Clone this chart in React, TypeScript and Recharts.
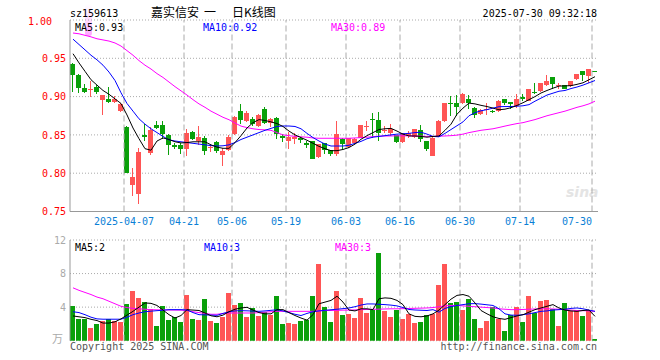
import React from 'react';
import { ComposedChart, Bar, Line, XAxis, YAxis, CartesianGrid, ReferenceLine } from 'recharts';

const dates = [
  '2025-03-24','2025-03-25','2025-03-26','2025-03-27','2025-03-28','2025-03-31','2025-04-01','2025-04-02','2025-04-03','2025-04-07',
  '2025-04-08','2025-04-09','2025-04-10','2025-04-11','2025-04-14','2025-04-15','2025-04-16','2025-04-17','2025-04-18','2025-04-21',
  '2025-04-22','2025-04-23','2025-04-24','2025-04-25','2025-04-28','2025-04-29','2025-04-30','2025-05-06','2025-05-07','2025-05-08',
  '2025-05-09','2025-05-12','2025-05-13','2025-05-14','2025-05-15','2025-05-16','2025-05-19','2025-05-20','2025-05-21','2025-05-22',
  '2025-05-23','2025-05-26','2025-05-27','2025-05-28','2025-05-29','2025-05-30','2025-06-03','2025-06-04','2025-06-05','2025-06-06',
  '2025-06-09','2025-06-10','2025-06-11','2025-06-12','2025-06-13','2025-06-16','2025-06-17','2025-06-18','2025-06-19','2025-06-20',
  '2025-06-23','2025-06-24','2025-06-25','2025-06-26','2025-06-27','2025-06-30','2025-07-01','2025-07-02','2025-07-03','2025-07-04',
  '2025-07-07','2025-07-08','2025-07-09','2025-07-10','2025-07-11','2025-07-14','2025-07-15','2025-07-16','2025-07-17','2025-07-18',
  '2025-07-21','2025-07-22','2025-07-23','2025-07-24','2025-07-25','2025-07-28','2025-07-29','2025-07-30'
];

const open = [
  0.9426,0.928,0.9106,0.909,0.912,0.895,0.897,0.8935,0.881,0.860,
  0.785,0.773,0.8497,0.8265,0.8624,0.8624,0.8493,0.8374,0.8366,0.8322,
  0.8541,0.8418,0.8462,0.8331,0.8409,0.8243,0.8300,0.8506,0.8812,0.8681,
  0.8712,0.8615,0.8843,0.866,0.8725,0.8485,0.8419,0.8441,0.8463,0.8389,
  0.8419,0.8214,0.8389,0.830,0.8245,0.8441,0.8345,0.8398,0.8463,0.8615,
  0.8712,0.8695,0.856,0.852,0.8494,0.8406,0.848,0.8476,0.8563,0.8419,
  0.8225,0.848,0.868,0.8912,0.8912,0.8912,0.8965,0.8855,0.8768,0.8830,
  0.8812,0.8812,0.8965,0.893,0.8877,0.900,0.8943,0.9062,0.9074,0.9149,
  0.925,0.915,0.9149,0.914,0.9228,0.9328,0.9272,0.9328
];
const close = [
  0.9285,0.911,0.9066,0.910,0.906,0.902,0.8935,0.897,0.890,0.800,
  0.7945,0.828,0.8476,0.8563,0.8585,0.8506,0.8374,0.8344,0.8322,0.8528,
  0.8440,0.8475,0.8287,0.8336,0.8287,0.8287,0.8471,0.8738,0.8694,0.879,
  0.8637,0.8755,0.866,0.8703,0.8507,0.8463,0.8476,0.8476,0.8432,0.8362,
  0.8188,0.8375,0.830,0.8245,0.8506,0.8376,0.8454,0.845,0.8625,0.862,
  0.8695,0.852,0.857,0.858,0.8406,0.852,0.853,0.8572,0.8441,0.831,
  0.846,0.868,0.8915,0.890,0.8869,0.903,0.8921,0.8755,0.8825,0.8834,
  0.881,0.8943,0.8921,0.890,0.8974,0.8974,0.9096,0.906,0.9175,0.9206,
  0.9162,0.9152,0.9105,0.9206,0.9293,0.928,0.936,0.9325
];
const high = [
  0.944,0.929,0.916,0.920,0.915,0.902,0.912,0.901,0.892,0.861,
  0.807,0.833,0.8637,0.860,0.8681,0.8681,0.8506,0.839,0.8396,0.8571,
  0.855,0.8615,0.8484,0.8374,0.8418,0.8331,0.850,0.875,0.890,0.881,
  0.874,0.877,0.886,0.872,0.873,0.8506,0.8537,0.853,0.8476,0.8419,
  0.8425,0.838,0.839,0.8305,0.868,0.846,0.846,0.846,0.863,0.868,
  0.879,0.8804,0.862,0.864,0.8494,0.853,0.855,0.858,0.8624,0.842,
  0.847,0.869,0.892,0.9009,0.9018,0.905,0.9018,0.886,0.8835,0.892,
  0.883,0.895,0.897,0.8935,0.903,0.903,0.910,0.918,0.918,0.928,
  0.925,0.918,0.915,0.921,0.930,0.933,0.936,0.9335
];
const low = [
  0.906,0.905,0.905,0.900,0.903,0.8755,0.892,0.892,0.880,0.800,
  0.7704,0.760,0.8418,0.824,0.8571,0.844,0.8243,0.832,0.8256,0.8230,
  0.843,0.8374,0.8243,0.8274,0.8265,0.8098,0.829,0.850,0.8637,0.867,
  0.862,0.860,0.864,0.860,0.844,0.8406,0.8318,0.8376,0.840,0.8335,
  0.818,0.820,0.8245,0.822,0.822,0.831,0.833,0.839,0.846,0.855,
  0.8463,0.8419,0.852,0.849,0.8395,0.840,0.846,0.846,0.8406,0.829,
  0.822,0.847,0.867,0.8746,0.8746,0.890,0.8834,0.8724,0.8755,0.8755,
  0.879,0.880,0.889,0.884,0.885,0.894,0.894,0.903,0.906,0.914,
  0.9105,0.910,0.910,0.913,0.922,0.9206,0.918,0.9322
];
const ma5 = [
  0.956,0.944,0.933,0.922,0.915,0.908,0.903,0.897,0.891,0.876,
  0.859,0.845,0.832,0.830,0.842,0.846,0.844,0.841,0.8395,0.840,
  0.841,0.841,0.841,0.837,0.834,0.8325,0.8325,0.840,0.849,0.859,
  0.866,0.870,0.8688,0.867,0.8648,0.861,0.855,0.850,0.8465,0.843,
  0.839,0.835,0.832,0.8294,0.8294,0.831,0.8335,0.838,0.8443,0.849,
  0.853,0.857,0.858,0.8585,0.855,0.851,0.8486,0.8486,0.848,0.847,
  0.848,0.8486,0.856,0.864,0.877,0.885,0.8915,0.8905,0.8886,0.887,
  0.885,0.8828,0.8836,0.8855,0.8885,0.892,0.896,0.900,0.9047,0.908,
  0.911,0.9137,0.914,0.9143,0.916,0.918,0.922,0.926
];
const ma10 = [
  0.975,0.968,0.961,0.954,0.948,0.941,0.932,0.921,0.905,0.891,
  0.881,0.871,0.864,0.858,0.853,0.848,0.8435,0.842,0.841,0.840,
  0.839,0.838,0.837,0.836,0.8355,0.8358,0.837,0.840,0.844,0.847,
  0.850,0.853,0.856,0.8585,0.861,0.8616,0.8616,0.861,0.858,0.852,
  0.8465,0.842,0.838,0.8355,0.8355,0.8355,0.8365,0.839,0.8415,0.845,
  0.847,0.848,0.849,0.850,0.851,0.8515,0.852,0.853,0.8535,0.851,
  0.848,0.8475,0.852,0.857,0.862,0.867,0.875,0.879,0.8815,0.883,
  0.885,0.8868,0.887,0.887,0.8875,0.888,0.8895,0.894,0.898,0.902,
  0.9045,0.907,0.908,0.9105,0.9125,0.915,0.918,0.921
];
const ma30 = [
  0.983,0.982,0.980,0.978,0.9755,0.974,0.9725,0.970,0.966,0.960,
  0.954,0.947,0.941,0.936,0.930,0.925,0.919,0.913,0.9075,0.902,
  0.896,0.8905,0.886,0.881,0.877,0.873,0.8698,0.8655,0.8615,0.8595,
  0.858,0.857,0.8566,0.856,0.853,0.850,0.849,0.848,0.8475,0.847,
  0.846,0.8456,0.8456,0.8456,0.8456,0.8456,0.8456,0.846,0.8465,0.847,
  0.8477,0.8484,0.8486,0.8486,0.8488,0.8488,0.8488,0.8486,0.8484,0.848,
  0.848,0.8483,0.8486,0.849,0.8497,0.851,0.853,0.8545,0.856,0.857,
  0.858,0.8597,0.8615,0.8632,0.8648,0.866,0.868,0.870,0.8725,0.875,
  0.877,0.879,0.881,0.8835,0.886,0.888,0.8905,0.894
];
const vol = [
  4.1,2.6,2.6,1.56,2.0,2.4,2.57,2.4,2.17,4.4,
  5.9,5.06,4.66,3.78,1.77,4.18,2.49,2.77,2.25,5.42,
  2.61,2.41,5.02,2.29,2.13,2.77,5.66,4.3,4.46,2.77,
  3.86,3.0,3.37,3.1,5.38,2.0,2.13,2.0,2.29,2.49,
  5.38,9.16,3.98,2.28,5.96,3.08,3.24,2.76,5.12,3.36,
  3.68,10.4,3.48,2.84,3.68,2.6,3.2,2.12,2.28,3.08,
  3.2,6.6,9.12,4.44,4.56,3.68,5.0,2.6,1.52,2.4,
  4.04,2.6,1.16,3.08,4.04,2.28,5.36,3.32,4.76,4.88,
  3.8,1.76,4.52,3.48,3.68,2.96,3.68,0.2
];
const vma5 = [
  2.95,2.85,2.75,2.55,2.4,2.1,2.1,2.25,2.6,3.05,
  3.5,4.0,4.5,4.45,4.2,3.65,3.1,2.7,3.0,3.7,
  3.65,3.6,3.3,2.97,2.85,3.05,3.45,3.75,3.9,3.98,
  3.65,3.35,3.2,3.2,3.7,3.7,3.35,3.0,2.7,2.45,
  3.1,4.4,4.6,4.8,5.3,4.6,3.65,3.55,3.8,3.8,
  3.7,5.0,5.1,5.05,4.8,4.3,3.2,2.9,2.85,2.95,
  3.2,3.65,4.3,4.95,5.4,5.5,5.3,4.5,3.6,3.2,
  2.85,2.65,2.55,2.75,2.95,3.1,3.4,3.7,3.9,4.1,
  4.3,3.9,3.65,3.55,3.5,3.6,3.65,2.9
];
const vma10 = [
  3.45,3.35,3.1,2.8,2.6,2.56,2.56,2.56,2.56,2.8,
  3.1,3.3,3.45,3.52,3.58,3.63,3.7,3.7,3.7,3.66,
  3.35,3.1,3.08,3.05,3.02,3.25,3.45,3.55,3.58,3.56,
  3.53,3.5,3.55,3.62,3.68,3.55,3.35,3.15,3.0,3.25,
  3.45,3.55,3.62,3.69,3.75,3.82,3.9,4.05,4.25,4.38,
  4.38,4.34,4.3,4.24,4.15,3.95,3.72,3.66,3.63,3.6,
  3.7,3.4,3.85,4.05,4.2,4.3,4.4,4.42,4.36,4.28,
  4.2,3.8,3.2,3.05,3.03,3.1,3.2,3.35,3.5,3.55,
  3.65,3.7,3.75,3.85,3.9,3.8,3.65,3.5
];
const vma30 = [
  6.3,6.0,5.75,5.5,5.2,5.0,4.7,4.4,4.1,3.95,
  3.85,3.8,3.75,3.7,3.68,3.67,3.66,3.65,3.64,3.6,
  3.45,3.35,3.25,3.15,3.15,3.25,3.3,3.3,3.3,3.3,
  3.3,3.35,3.4,3.45,3.5,3.5,3.5,3.5,3.5,3.5,
  3.5,3.55,3.6,3.6,3.62,3.64,3.65,3.67,3.7,3.72,
  3.74,3.76,3.78,3.8,3.8,3.82,3.84,3.86,3.88,3.9,
  3.95,4.05,4.15,4.2,4.2,4.15,4.1,4.05,4.0,3.95,
  3.9,3.8,3.75,3.7,3.7,3.72,3.75,3.78,3.8,3.8,
  3.78,3.75,3.7,3.65,3.6,3.58,3.55,3.5
];

const tickDates = ['2025-04-07','2025-04-21','2025-05-06','2025-05-19','2025-06-03','2025-06-16','2025-06-30','2025-07-14','2025-07-30'];
const tickLabels = ['2025-04-07','04-21','05-06','05-19','06-03','06-16','06-30','07-14','07-30'];
const priceTicks = [0.75, 0.8, 0.85, 0.9, 0.95, 1.0];
const volTicks = [0, 4, 8, 12];

const rows = dates.map((d, i) => ({
  date: d, open: open[i], close: close[i], high: high[i], low: low[i],
  ma5: ma5[i], ma10: ma10[i], ma30: ma30[i],
  vol: vol[i], vma5: vma5[i], vma10: vma10[i], vma30: vma30[i],
}));

const FONT = '"DejaVu Sans Mono", "Liberation Mono", monospace';
const CJK = '"Noto Sans CJK SC", sans-serif';
const RED = '#ff5555';
const GREEN = '#0aa00a';
const BORDER = '#999999';
const GRID = '#aaaaaa';
const BAND = 6;

function Candle(props: any) {
  const { x, y, height, payload } = props;
  const top = Math.min(y, y + height);
  const bot = Math.max(y, y + height);
  const span = payload.high - payload.low;
  const toY = (v: number) => (span > 0 ? top + ((payload.high - v) / span) * (bot - top) : top);
  const up = payload.close >= payload.open;
  const color = up ? RED : GREEN;
  const left = Math.round(x);
  const wTop = Math.round(top);
  const wBot = Math.round(bot);
  const bTop = Math.round(toY(Math.max(payload.open, payload.close)));
  const bBot = Math.round(toY(Math.min(payload.open, payload.close)));
  return (
    <g>
      <rect x={left + 2} y={wTop} width={1} height={Math.max(1, wBot - wTop)} fill={color} />
      <rect x={left} y={bTop} width={5} height={Math.max(1, bBot - bTop)} fill={color} />
    </g>
  );
}

function VolBar(props: any) {
  const { x, y, height, payload } = props;
  const up = payload.close >= payload.open;
  const top = Math.round(Math.min(y, y + height));
  const bot = Math.round(Math.max(y, y + height));
  return <rect x={Math.round(x)} y={top} width={5} height={Math.max(1, bot - top)} fill={up ? RED : GREEN} />;
}

function DateTick(props: any) {
  const { x, y, payload } = props;
  const i = tickDates.indexOf(payload.value);
  if (i < 0) return null;
  const last = i === tickDates.length - 1;
  return (
    <text x={x - BAND / 2} y={y + 13} textAnchor={last ? 'end' : 'middle'} fill="#0a7fd6" fontSize={10} fontFamily={FONT}>
      {tickLabels[i]}
    </text>
  );
}

function PriceTick(props: any) {
  const { x, y, payload } = props;
  const isTop = payload.value === priceTicks[priceTicks.length - 1];
  return (
    <text x={isTop ? x - 14 : x} y={isTop ? y + 5 : y + 3.6} textAnchor="end" fill="#ff0000" fontSize={10} fontFamily={FONT}>
      {payload.value.toFixed(2)}
    </text>
  );
}

function VolTick(props: any) {
  const { x, y, payload } = props;
  if (payload.value === 0) {
    return (
      <text x={x - 3} y={y + 2} textAnchor="end" fill="#aaaaaa" fontSize={11} fontFamily={CJK}>万</text>
    );
  }
  return (
    <text x={x} y={y + 3.6} textAnchor="end" fill="#aaaaaa" fontSize={10} fontFamily={FONT}>
      {payload.value}
    </text>
  );
}

const vLines = tickDates.map((d) => (
  <ReferenceLine key={d} x={d} position="start" stroke={GRID} strokeDasharray="6 3" ifOverflow="visible" />
));

export default function App() {
  return (
    <div style={{ position: 'absolute', left: 0, top: 0, width: 660, height: 360, background: '#fff', overflow: 'hidden' }}>
      <svg width={660} height={360} style={{ position: 'absolute', left: 0, top: 0, pointerEvents: 'none' }}>
        <defs>
          <linearGradient id="glow" x1="0" y1="0" x2="0" y2="1">
            <stop offset="0" stopColor="#ff80ff" stopOpacity={0} />
            <stop offset="0.6" stopColor="#ff80ff" stopOpacity={0.35} />
            <stop offset="1" stopColor="#ff60ff" stopOpacity={0.6} />
          </linearGradient>
        </defs>
        <rect x={85} y={4} width={7} height={32} rx={3} fill="url(#glow)" />
        <text x={566} y={197} fontSize={14} fontStyle="italic" fontWeight="bold" fontFamily="'DejaVu Sans', sans-serif" fill="#e4e4e4">sina</text>
      </svg>
      <div style={{ position: 'absolute', left: 0, top: 0 }}>
        <ComposedChart width={660} height={240} data={rows} margin={{ top: 20, right: 62, bottom: 0, left: 0 }} barCategoryGap={0} barGap={0}>
          <CartesianGrid vertical={false} stroke={GRID} strokeDasharray="1 2" />
          <XAxis dataKey="date" ticks={tickDates} interval={0} tick={<DateTick />} tickLine={false} tickSize={0} tickMargin={0} height={28.5} axisLine={{ stroke: BORDER }} />
          <XAxis xAxisId="top" dataKey="date" orientation="top" height={0} tick={false} tickLine={false} axisLine={{ stroke: BORDER }} />
          <YAxis domain={[0.75, 1]} ticks={priceTicks} width={70} tick={<PriceTick />} tickLine={false} tickSize={0} tickMargin={4} axisLine={{ stroke: BORDER }} allowDataOverflow />
          <YAxis yAxisId="r" orientation="right" width={0} domain={[0, 1]} tick={false} tickLine={false} axisLine={{ stroke: BORDER }} />
          {vLines}
          <Bar dataKey={(r: any) => [r.low, r.high]} barSize={6} shape={<Candle />} isAnimationActive={false} />
          <Line dataKey="ma30" stroke="#ff00ff" strokeWidth={1} dot={false} activeDot={false} isAnimationActive={false} />
          <Line dataKey="ma10" stroke="#0000ff" strokeWidth={1} dot={false} activeDot={false} isAnimationActive={false} />
          <Line dataKey="ma5" stroke="#000000" strokeWidth={1} dot={false} activeDot={false} isAnimationActive={false} />
        </ComposedChart>
      </div>
      <div style={{ position: 'absolute', left: 0, top: 230 }}>
        <ComposedChart width={660} height={130} data={rows} margin={{ top: 10, right: 62, bottom: 19.3, left: 0 }} barCategoryGap={0} barGap={0}>
          <CartesianGrid vertical={false} stroke={GRID} strokeDasharray="1 2" />
          <XAxis dataKey="date" height={0} tick={false} tickLine={false} axisLine={{ stroke: BORDER }} />
          <XAxis xAxisId="top" dataKey="date" orientation="top" height={0} tick={false} tickLine={false} axisLine={{ stroke: BORDER }} />
          <YAxis domain={[0, 12]} ticks={volTicks} width={70} tick={<VolTick />} tickLine={false} tickSize={0} tickMargin={4} axisLine={{ stroke: BORDER }} allowDataOverflow />
          <YAxis yAxisId="r" orientation="right" width={0} domain={[0, 1]} tick={false} tickLine={false} axisLine={{ stroke: BORDER }} />
          {vLines}
          <Bar dataKey="vol" barSize={6} shape={<VolBar />} isAnimationActive={false} />
          <Line dataKey="vma30" stroke="#ff00ff" strokeWidth={1} dot={false} activeDot={false} isAnimationActive={false} />
          <Line dataKey="vma10" stroke="#0000ff" strokeWidth={1} dot={false} activeDot={false} isAnimationActive={false} />
          <Line dataKey="vma5" stroke="#000000" strokeWidth={1} dot={false} activeDot={false} isAnimationActive={false} />
        </ComposedChart>
      </div>
      <svg width={660} height={360} style={{ position: 'absolute', left: 0, top: 0, pointerEvents: 'none' }}>
        <text x={70} y={16.5} fontSize={10} fontFamily={FONT} fill="#000">sz159613</text>
        <text x={151} y={16.5} fontSize={12} fontFamily={CJK} fill="#000">嘉实信安</text>
        <text x={204} y={16.5} fontSize={12} fontFamily={CJK} fill="#000">一</text>
        <text x={232} y={16.5} fontSize={12} fontFamily={CJK} fill="#000">日K线图</text>
        <text x={597} y={16.5} fontSize={10} fontFamily={FONT} fill="#000" textAnchor="end">2025-07-30 09:32:18</text>
        <text x={75} y={31} fontSize={10} fontFamily={FONT} fill="#000">MA5:0.93</text>
        <text x={203} y={31} fontSize={10} fontFamily={FONT} fill="#0000ff">MA10:0.92</text>
        <text x={331} y={31} fontSize={10} fontFamily={FONT} fill="#ff00ff">MA30:0.89</text>
        <text x={75} y={251} fontSize={10} fontFamily={FONT} fill="#000">MA5:2</text>
        <text x={204} y={251} fontSize={10} fontFamily={FONT} fill="#0000ff">MA10:3</text>
        <text x={335} y={251} fontSize={10} fontFamily={FONT} fill="#ff00ff">MA30:3</text>
        <text x={70} y={350} fontSize={10} fontFamily={FONT} fill="#555">Copyright 2025 SINA.COM</text>
        <text x={597} y={350} fontSize={10} fontFamily={FONT} fill="#555" textAnchor="end">http://finance.sina.com.cn</text>
      </svg>
    </div>
  );
}
